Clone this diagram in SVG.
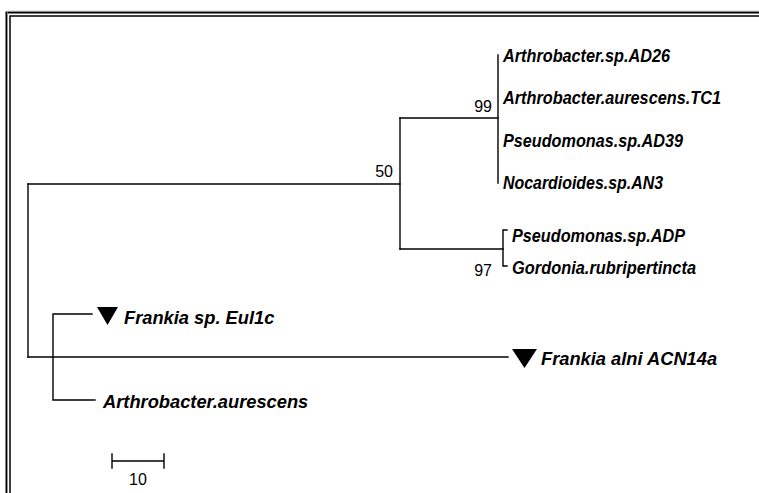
<svg xmlns="http://www.w3.org/2000/svg" width="759" height="493" viewBox="0 0 759 493">
<style>
.br{stroke:#000;stroke-width:1.4;fill:none;stroke-linecap:square}
.lab{font-family:"Liberation Sans",Arial,sans-serif;font-weight:bold;font-style:italic;font-size:17.5px;fill:#000}
.lab2{font-family:"Liberation Sans",Arial,sans-serif;font-weight:bold;font-style:italic;font-size:18.3px;fill:#000}
.bs{font-family:"Liberation Sans",Arial,sans-serif;font-size:16px;fill:#000}
.tri{fill:#000}
</style>
<rect width="759" height="493" fill="#fff"/>
<g id="frame">
<path d="M6.5 800 V12.5 H800" stroke="#000" stroke-width="2" fill="none"/>
<path d="M7.5 800 V11.2 H800" stroke="#999" stroke-width="0.8" fill="none"/>
<path d="M10 800 V16 H800" stroke="#000" stroke-width="1.5" fill="none"/>
</g>
<g id="connectors">
<path class="br" d="M28 184 V357"/>
<path class="br" d="M28 184 H400"/>
<path class="br" d="M28 357 H508"/>
<path class="br" d="M400 118 V249"/>
<path class="br" d="M400 118 H498"/>
<path class="br" d="M498 55 V183"/>
<path class="br" d="M400 249 H503"/>
<path class="br" d="M507 230 H503 V266 H507"/>
<path class="br" d="M92 314 H53 V400 H95"/>
<path class="br" d="M112 461 H164 M112 454 V468 M164 454 V468"/>
</g>
<g id="n-ad26"><text class="lab" x="503" y="62" textLength="167" lengthAdjust="spacingAndGlyphs">Arthrobacter.sp.AD26</text></g>
<g id="n-tc1"><text class="lab" x="503" y="104" textLength="218" lengthAdjust="spacingAndGlyphs">Arthrobacter.aurescens.TC1</text></g>
<g id="n-ad39"><text class="lab" x="503" y="147" textLength="180" lengthAdjust="spacingAndGlyphs">Pseudomonas.sp.AD39</text></g>
<g id="n-an3"><text class="lab" x="503" y="189" textLength="160" lengthAdjust="spacingAndGlyphs">Nocardioides.sp.AN3</text></g>
<g id="n-adp"><text class="lab" x="512" y="242" textLength="173" lengthAdjust="spacingAndGlyphs">Pseudomonas.sp.ADP</text></g>
<g id="n-gord"><text class="lab" x="512" y="274" textLength="184" lengthAdjust="spacingAndGlyphs">Gordonia.rubripertincta</text></g>
<g id="n-acn"><polygon class="tri" points="512,349 537,349 524.5,368"/><text class="lab2" x="541" y="365">Frankia alni ACN14a</text></g>
<g id="n-eul"><polygon class="tri" points="97,307 118,307 107.5,325"/><text class="lab2" x="124" y="324">Frankia sp. Eul1c</text></g>
<g id="n-aur"><text class="lab2" x="103" y="408">Arthrobacter.aurescens</text></g>
<g id="bootstrap">
<text class="bs" x="492" y="112" text-anchor="end">99</text>
<text class="bs" x="393" y="177" text-anchor="end">50</text>
<text class="bs" x="492" y="276" text-anchor="end">97</text>
</g>
<g id="scale"><text class="bs" x="138" y="485" text-anchor="middle">10</text></g>
</svg>
